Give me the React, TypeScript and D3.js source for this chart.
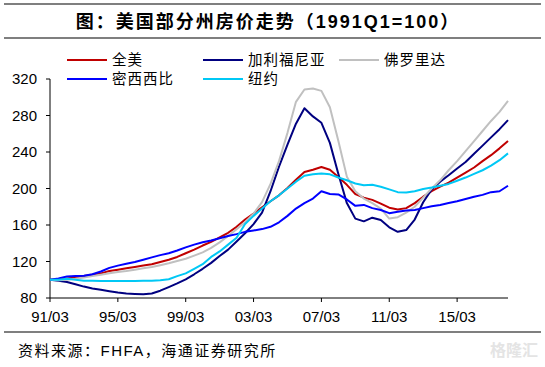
import React from 'react';
import * as d3 from 'd3';

// 半年一个点：1991Q1, 1991Q3, ... 2018Q1
const quarters = d3.range(0, 55).map(i => `${1991 + Math.floor(i / 2)}Q${i % 2 === 0 ? 1 : 3}`);

const usa = [100, 100.5, 101.5, 102.5, 104, 105.5, 107, 109.5, 111, 112.5, 114, 115.5, 117, 119.5, 122, 125, 129, 133, 137.5, 141.5, 146.5, 151.5, 158, 166, 172.5, 179.5, 186, 192.5, 200.5, 209.5, 218, 220.5, 223.5, 220.5, 212.5, 204, 194, 190, 187.5, 183.5, 179, 177, 178.5, 184, 191, 197, 202, 206.5, 212, 217.5, 223, 230, 236.5, 244, 252];
const california = [100, 99, 97.5, 95, 92.5, 90.5, 89, 87.5, 86, 85, 84.5, 84, 85, 88, 92, 96, 100.5, 106, 112, 118.5, 126, 133, 142, 151, 161, 173.5, 197, 224, 248, 271, 288, 279, 272, 250, 216, 184, 167, 164, 168, 165.5, 157.5, 152.5, 154.5, 166, 185, 199, 207.5, 214.5, 222, 229, 238, 247, 256, 265, 275];
const florida = [100, 99.5, 100, 101, 102.5, 104, 105.5, 107, 108.5, 109.5, 111, 112.5, 114, 116, 118, 120.5, 123, 126.5, 130, 135, 141, 148, 155.5, 163, 172.5, 185, 205, 230, 261, 295, 308.5, 309.5, 307, 289, 252, 213, 197, 189, 184, 178, 167, 168.5, 173.5, 180, 190, 200, 209, 220, 230, 241, 252, 263, 274, 284, 296];
const mississippi = [100, 101.5, 103.5, 104, 104.5, 106, 109, 113, 115.5, 117.5, 119.5, 122, 124.5, 127, 129, 132, 135.5, 138.5, 141, 143, 145.5, 148, 150, 152.5, 154, 155.5, 158, 163, 170, 178, 184, 189, 197, 194, 193.5, 188, 181, 182, 178.5, 176.5, 173, 174.5, 176, 176.5, 178.5, 180.5, 182, 184, 186, 188.5, 191, 193, 196, 197, 203];
const newYork = [100, 100, 101, 100, 99, 99, 98.5, 98.5, 98.5, 98.5, 98.5, 99, 99, 99.5, 100.5, 104, 107, 112, 117, 125, 131, 138.5, 146, 161, 170, 178, 186, 192.5, 200, 207.5, 214, 215.5, 216.5, 215.5, 212, 209, 205.5, 203.5, 204, 202, 199, 196, 195.5, 197, 199.5, 201, 203, 205, 208.5, 212, 216, 220, 225, 231, 238.5];

const seriesNames = ['全美', '加利福尼亚', '佛罗里达', '密西西比', '纽约'];
const seriesValues = [usa, california, florida, mississippi, newYork];
const seriesColors = ['#C00000', '#000080', '#C0C0C0', '#0000FF', '#00C8F5'];

const yTicks = [80, 120, 160, 200, 240, 280, 320];
const xTickYears = [1991, 1995, 1999, 2003, 2007, 2011, 2015];
const xTickLabels = ['91/03', '95/03', '99/03', '03/03', '07/03', '11/03', '15/03'];

const title = '图：美国部分州房价走势（1991Q1=100）';
const source = '资料来源：FHFA，海通证券研究所';

function quarterToYear(q: string) {
  const year = +q.slice(0, 4);
  const qq = +q.slice(5);
  return year + (qq - 1) / 4;
}

export default function App() {
  const width = 545;
  const height = 367;
  const margin = { left: 50, right: 37, top: 79, bottom: 69 };

  const x = d3.scaleLinear().domain([1991, 2018]).range([margin.left, width - margin.right]);
  const y = d3.scaleLinear().domain([80, 320]).range([height - margin.bottom, margin.top]);

  const line = d3.line<number>()
    .x((_, i) => x(quarterToYear(quarters[i])))
    .y(d => y(d));

  const font = '"Liberation Sans", Arial, "Noto Sans CJK SC", sans-serif';
  const cjk = '"Noto Sans CJK SC", sans-serif';

  const legendPos = [
    { x: 67, y: 60 }, { x: 203, y: 60 }, { x: 339, y: 60 },
    { x: 67, y: 79 }, { x: 203, y: 79 },
  ];

  const y0 = y(80);

  return (
    <svg width={width} height={height} style={{ position: 'absolute', left: 0, top: 0, background: '#fff' }}>
      {/* title */}
      <line x1={4} x2={541} y1={4} y2={4} stroke="#000" strokeWidth={1.2} />
      <text x={268} y={28} textAnchor="middle" fontFamily={font} fontWeight="bold" fontSize={18} fill="#000" letterSpacing={2}>{title}</text>
      <line x1={4} x2={541} y1={38} y2={38} stroke="#000" strokeWidth={1.2} />

      {/* legend */}
      {seriesNames.map((n, i) => (
        <g key={n}>
          <line x1={legendPos[i].x} x2={legendPos[i].x + 40} y1={legendPos[i].y} y2={legendPos[i].y} stroke={seriesColors[i]} strokeWidth={2} />
          <text x={legendPos[i].x + 45} y={legendPos[i].y + 5} fontFamily={cjk} fontSize={14.5} fill="#000" letterSpacing={1}>{n}</text>
        </g>
      ))}

      {/* y axis */}
      <line x1={margin.left} x2={margin.left} y1={y(320)} y2={y0} stroke="#000" strokeWidth={1} />
      {yTicks.map(t => (
        <g key={t}>
          <line x1={margin.left - 4} x2={margin.left} y1={y(t)} y2={y(t)} stroke="#000" />
          <text x={37} y={y(t) + 5} textAnchor="end" fontFamily={font} fontSize={15} fill="#000">{t}</text>
        </g>
      ))}

      {/* x axis */}
      <line x1={margin.left} x2={width - margin.right} y1={y0} y2={y0} stroke="#000" strokeWidth={1} />
      {xTickYears.map((t, i) => (
        <g key={t}>
          <line x1={x(t)} x2={x(t)} y1={y0} y2={y0 + 4} stroke="#000" />
          <text x={x(t)} y={y0 + 24} textAnchor="middle" fontFamily={font} fontSize={15} fill="#000">{xTickLabels[i]}</text>
        </g>
      ))}

      {/* lines */}
      {seriesValues.map((vals, i) => (
        <path key={seriesNames[i]} d={line(vals) || ''} fill="none" stroke={seriesColors[i]} strokeWidth={2} strokeLinejoin="round" />
      ))}

      {/* source */}
      <line x1={4} x2={541} y1={332} y2={332} stroke="#000" strokeWidth={1.2} />
      <text x={18} y={356} fontFamily={font} fontSize={15} fill="#000" letterSpacing={1.5}>{source}</text>
      <text x={538} y={356} textAnchor="end" fontFamily={cjk} fontSize={16} fontWeight="bold" fill="#e4e4e4">格隆汇</text>
    </svg>
  );
}
